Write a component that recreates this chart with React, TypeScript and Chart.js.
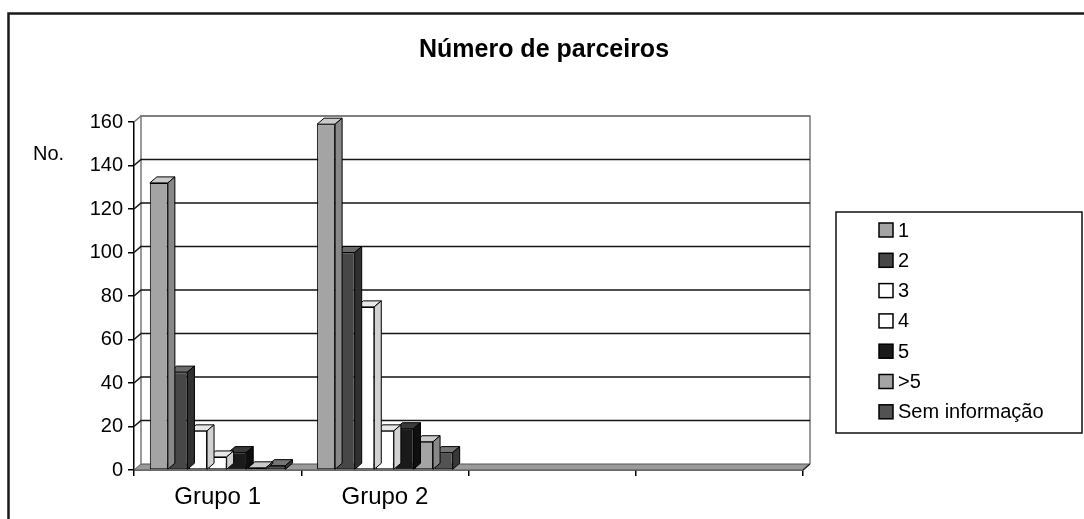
import { useEffect, useRef } from 'react';
import { Chart, registerables } from 'chart.js';

Chart.register(...registerables);

const categories = ['Grupo 1', 'Grupo 2', '', ''];
const seriesNames = ['1', '2', '3', '4', '5', '>5', 'Sem informação'];
const serie1 = [132, 159];
const serie2 = [45, 100];
const serie3 = [18, 75];
const serie4 = [6, 18];
const serie5 = [8, 19];
const serieMais5 = [1, 13];
const serieSemInfo = [2, 8];
const yTicks = [0, 20, 40, 60, 80, 100, 120, 140, 160];

const seriesValues = [serie1, serie2, serie3, serie4, serie5, serieMais5, serieSemInfo];

const FONT = "'Liberation Sans', Arial, Helvetica, sans-serif";
const DX = 7;
const DY = 6;

const styles = [
  { front: '#a4a4a4', top: '#cacaca', side: '#888888' },
  { front: '#474747', top: '#6a6a6a', side: '#303030' },
  { front: '#ffffff', top: '#e8e8e8', side: '#d2d2d2' },
  { front: '#ffffff', top: '#e8e8e8', side: '#d2d2d2' },
  { front: '#1a1a1a', top: '#3a3a3a', side: '#0f0f0f' },
  { front: '#a4a4a4', top: '#cacaca', side: '#888888' },
  { front: '#525252', top: '#757575', side: '#383838' },
];

const excel3d = {
  id: 'excel3d',
  beforeDraw(chart: any) {
    const { ctx, width, height } = chart;
    ctx.save();
    ctx.fillStyle = '#ffffff';
    ctx.fillRect(0, 0, width, height);
    ctx.restore();
  },
  beforeDatasetsDraw(chart: any) {
    const { ctx, chartArea, scales } = chart;
    const { left: L, right: R, top: T, bottom: B } = chartArea;
    const y = scales.y;
    ctx.save();
    ctx.beginPath();
    ctx.moveTo(L, B);
    ctx.lineTo(R, B);
    ctx.lineTo(R + DX, B - DY);
    ctx.lineTo(L + DX, B - DY);
    ctx.closePath();
    ctx.fillStyle = '#9a9a9a';
    ctx.fill();
    ctx.strokeStyle = '#555555';
    ctx.lineWidth = 1;
    ctx.stroke();
    ctx.beginPath();
    ctx.moveTo(L + DX, B - DY);
    ctx.lineTo(L + DX, T - DY);
    ctx.lineTo(R + DX, T - DY);
    ctx.lineTo(R + DX, B - DY);
    ctx.strokeStyle = '#7a7a7a';
    ctx.lineWidth = 1.5;
    ctx.stroke();
    yTicks.forEach((v) => {
      if (v === 0) return;
      const py = y.getPixelForValue(v);
      ctx.beginPath();
      ctx.moveTo(L, py);
      ctx.lineTo(L + DX, py - DY);
      ctx.lineTo(R + DX, py - DY);
      ctx.strokeStyle = v === yTicks[yTicks.length - 1] ? '#777777' : '#151515';
      ctx.lineWidth = 1.6;
      ctx.stroke();
    });
    ctx.beginPath();
    ctx.moveTo(R, B);
    ctx.lineTo(R + DX, B - DY);
    ctx.strokeStyle = '#222';
    ctx.lineWidth = 1.2;
    ctx.stroke();
    ctx.restore();
  },
  afterDatasetDraw(chart: any, args: any) {
    const { ctx } = chart;
    const st = styles[args.index];
    ctx.save();
    ctx.lineWidth = 1;
    ctx.strokeStyle = '#000000';
    ctx.lineJoin = 'miter';
    args.meta.data.forEach((el: any) => {
      const p = el.getProps(['x', 'y', 'base', 'width'], true);
      if (!isFinite(p.y) || !isFinite(p.x)) return;
      const l = p.x - p.width / 2;
      const r = p.x + p.width / 2;
      const t = Math.min(p.y, p.base);
      const b = Math.max(p.y, p.base);
      ctx.beginPath();
      ctx.moveTo(l, t);
      ctx.lineTo(r, t);
      ctx.lineTo(r + DX, t - DY);
      ctx.lineTo(l + DX, t - DY);
      ctx.closePath();
      ctx.fillStyle = st.top;
      ctx.fill();
      ctx.stroke();
      ctx.beginPath();
      ctx.moveTo(r, t);
      ctx.lineTo(r + DX, t - DY);
      ctx.lineTo(r + DX, b - DY);
      ctx.lineTo(r, b);
      ctx.closePath();
      ctx.fillStyle = st.side;
      ctx.fill();
      ctx.stroke();
    });
    ctx.restore();
  },
  afterDraw(chart: any) {
    const { ctx, width, height } = chart;
    ctx.save();
    ctx.beginPath();
    ctx.moveTo(8.5, height + 5);
    ctx.lineTo(8.5, 13.5);
    ctx.lineTo(width + 5, 13.5);
    ctx.strokeStyle = '#1a1a1a';
    ctx.lineWidth = 2.5;
    ctx.stroke();
    ctx.fillStyle = '#000';
    ctx.font = `bold 25px ${FONT}`;
    ctx.textAlign = 'center';
    ctx.textBaseline = 'middle';
    ctx.fillText('Número de parceiros', 544, 50);
    ctx.font = `20px ${FONT}`;
    ctx.textAlign = 'left';
    ctx.fillText('No.', 33, 154);
    ctx.beginPath();
    ctx.rect(836, 212, 246, 221);
    ctx.strokeStyle = '#111';
    ctx.lineWidth = 1.5;
    ctx.stroke();
    chart.data.datasets.forEach((ds: any, i: number) => {
      const cy = 230 + i * 30.3;
      const st = styles[i];
      ctx.fillStyle = st.front;
      ctx.fillRect(879, cy - 7, 14, 14);
      ctx.lineWidth = 1.5;
      ctx.strokeStyle = '#000';
      ctx.strokeRect(879, cy - 7, 14, 14);
      ctx.fillStyle = '#000';
      ctx.font = `20px ${FONT}`;
      ctx.textAlign = 'left';
      ctx.textBaseline = 'middle';
      ctx.fillText(ds.label, 898, cy + 1);
    });
    ctx.restore();
  },
};

export default function App() {
  const ref = useRef<HTMLCanvasElement | null>(null);
  useEffect(() => {
    if (!ref.current) return;
    Chart.defaults.font.family = FONT;
    const chart = new Chart(ref.current, {
      type: 'bar',
      data: {
        labels: categories,
        datasets: seriesNames.map((name, i) => ({
          label: name,
          data: seriesValues[i],
          backgroundColor: styles[i].front,
          borderColor: '#000000',
          borderWidth: 1,
          borderSkipped: false,
          categoryPercentage: 0.82,
          barPercentage: 0.92,
          clip: false as any,
        })),
      },
      options: {
        responsive: false,
        animation: false,
        events: [],
        layout: { padding: { left: 0, right: 281, top: 122, bottom: 0 } },
        plugins: {
          legend: { display: false },
          title: { display: false },
          tooltip: { enabled: false },
        },
        scales: {
          x: {
            offset: true,
            grid: {
              offset: true,
              drawOnChartArea: false,
              drawTicks: true,
              tickLength: 6,
              color: '#000',
              lineWidth: 1.5,
            },
            border: { display: true, color: '#000', width: 1.5 },
            ticks: { color: '#000', font: { size: 24, family: FONT }, padding: 7, maxRotation: 0 },
            afterFit: (scale: any) => {
              scale.height = 49;
            },
          },
          y: {
            min: 0,
            max: 160,
            afterBuildTicks: (scale: any) => {
              scale.ticks = yTicks.map((v) => ({ value: v }));
            },
            grid: {
              drawOnChartArea: false,
              drawTicks: true,
              tickLength: 6,
              color: '#000',
              lineWidth: 1.5,
            },
            border: { display: true, color: '#000', width: 1.5 },
            ticks: { color: '#000', font: { size: 20, family: FONT }, padding: 5 },
            afterFit: (scale: any) => {
              scale.width = 134;
            },
          },
        },
      },
      plugins: [excel3d],
    });
    return () => chart.destroy();
  }, []);
  return (
    <div style={{ position: 'fixed', left: 0, top: 0, width: 1084, height: 519, overflow: 'hidden', background: '#fff' }}>
      <canvas ref={ref} width={1084} height={519} style={{ display: 'block', width: 1084, height: 519 }} />
    </div>
  );
}
